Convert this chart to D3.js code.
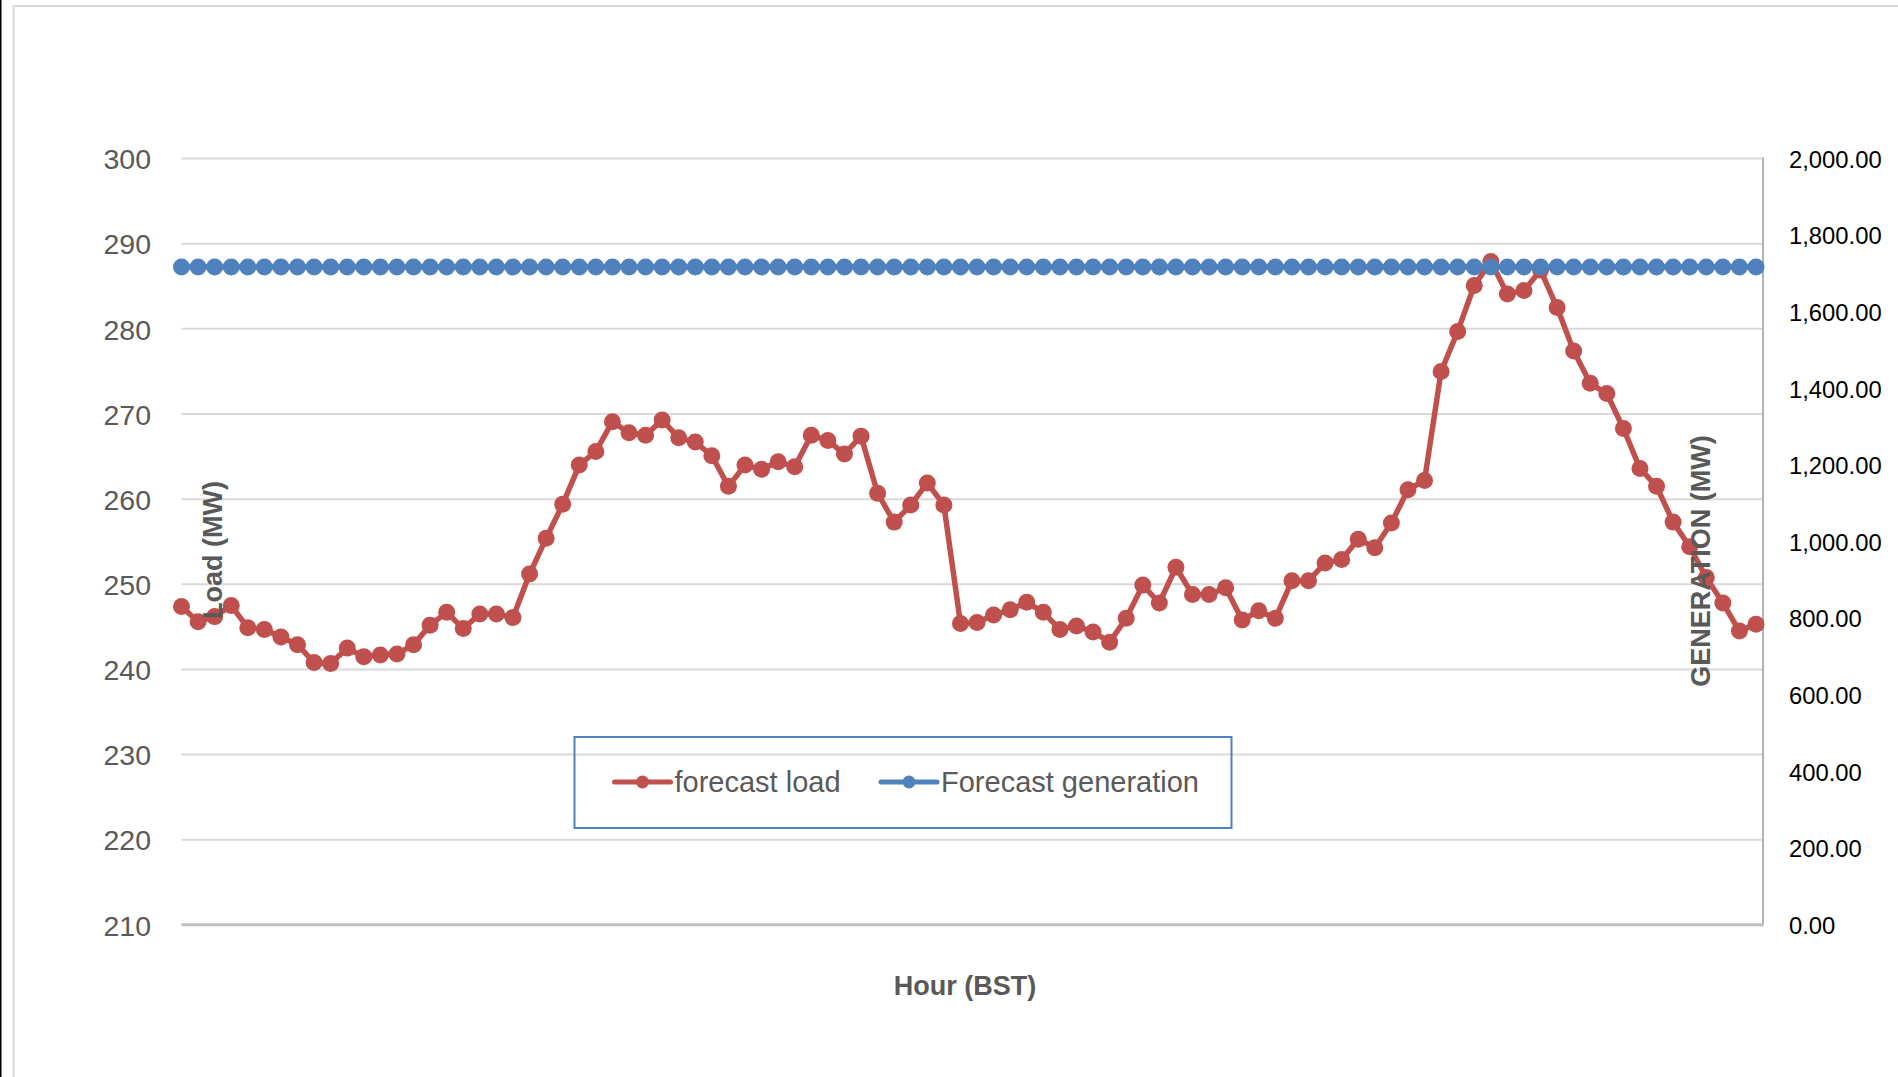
<!DOCTYPE html>
<html>
<head>
<meta charset="utf-8">
<script src="https://cdn.jsdelivr.net/npm/d3@7"></script>
<style>
  body { margin: 0; background: #ffffff; }
  svg { display: block; font-family: "Liberation Sans", Arial, sans-serif; }
</style>
</head>
<body>
<svg id="dataVisualisation"></svg>
<script>
// DATA
var hours = [
  "00:00","00:15","00:30","00:45","01:00","01:15","01:30","01:45",
  "02:00","02:15","02:30","02:45","03:00","03:15","03:30","03:45",
  "04:00","04:15","04:30","04:45","05:00","05:15","05:30","05:45",
  "06:00","06:15","06:30","06:45","07:00","07:15","07:30","07:45",
  "08:00","08:15","08:30","08:45","09:00","09:15","09:30","09:45",
  "10:00","10:15","10:30","10:45","11:00","11:15","11:30","11:45",
  "12:00","12:15","12:30","12:45","13:00","13:15","13:30","13:45",
  "14:00","14:15","14:30","14:45","15:00","15:15","15:30","15:45",
  "16:00","16:15","16:30","16:45","17:00","17:15","17:30","17:45",
  "18:00","18:15","18:30","18:45","19:00","19:15","19:30","19:45",
  "20:00","20:15","20:30","20:45","21:00","21:15","21:30","21:45",
  "22:00","22:15","22:30","22:45","23:00","23:15","23:30","23:45"
];

var forecastLoad = [
  247.4, 245.6, 246.2, 247.5, 244.9, 244.7, 243.8, 242.9,
  240.8, 240.7, 242.5, 241.5, 241.7, 241.8, 242.9, 245.2,
  246.7, 244.8, 246.5, 246.5, 246.1, 251.2, 255.4, 259.4,
  264.0, 265.6, 269.1, 267.8, 267.5, 269.3, 267.2, 266.7,
  265.1, 261.5, 264.0, 263.5, 264.4, 263.8, 267.5, 266.9,
  265.3, 267.4, 260.7, 257.3, 259.3, 261.9, 259.3, 245.4,
  245.5, 246.4, 247.0, 247.9, 246.7, 244.7, 245.1, 244.4,
  243.2, 246.0, 249.9, 247.8, 252.0, 248.8, 248.8, 249.6,
  245.8, 246.9, 246.0, 250.4, 250.4, 252.5, 252.9, 255.3,
  254.3, 257.2, 261.1, 262.2, 275.0, 279.7, 285.1, 287.9,
  284.1, 284.5, 286.9, 282.5, 277.4, 273.6, 272.4, 268.3,
  263.6, 261.5, 257.3, 254.4, 250.8, 247.8, 244.5, 245.3
];

var forecastGeneration = [
  1717, 1717, 1717, 1717, 1717, 1717, 1717, 1717,
  1717, 1717, 1717, 1717, 1717, 1717, 1717, 1717,
  1717, 1717, 1717, 1717, 1717, 1717, 1717, 1717,
  1717, 1717, 1717, 1717, 1717, 1717, 1717, 1717,
  1717, 1717, 1717, 1717, 1717, 1717, 1717, 1717,
  1717, 1717, 1717, 1717, 1717, 1717, 1717, 1717,
  1717, 1717, 1717, 1717, 1717, 1717, 1717, 1717,
  1717, 1717, 1717, 1717, 1717, 1717, 1717, 1717,
  1717, 1717, 1717, 1717, 1717, 1717, 1717, 1717,
  1717, 1717, 1717, 1717, 1717, 1717, 1717, 1717,
  1717, 1717, 1717, 1717, 1717, 1717, 1717, 1717,
  1717, 1717, 1717, 1717, 1717, 1717, 1717, 1717
];

var loadTicks = [210, 220, 230, 240, 250, 260, 270, 280, 290, 300];
var generationTicks = [0, 200, 400, 600, 800, 1000, 1200, 1400, 1600, 1800, 2000];

var seriesNames = ["forecast load", "Forecast generation"];

// NEEDED VARIABLES
var width = 1898;
var height = 1077;
var plot = {left: 181.5, right: 1763, lastPoint: 1756, top: 158.6, bottom: 924.8};
var red = "#c0504d";
var blue = "#4f81bd";
var textGrey = "#595959";

var svg = d3.select("#dataVisualisation")
  .attr("width", width)
  .attr("height", height)
  ;

// Background and outer frame
svg.append("rect")
  .attr("width", width)
  .attr("height", height)
  .attr("fill", "#ffffff")
  ;

svg.append("rect")
  .attr("x", 0)
  .attr("y", 0)
  .attr("width", 1.5)
  .attr("height", height)
  .attr("fill", "#000000")
  ;

svg.append("rect")
  .attr("x", 13.5)
  .attr("y", 6)
  .attr("width", width + 20)
  .attr("height", height + 20)
  .attr("fill", "none")
  .attr("stroke", "#d9d9d9")
  .attr("stroke-width", 2)
  ;

// Scales
var xScale = d3.scalePoint()
  .domain(hours)
  .range([plot.left, plot.lastPoint])
  ;

var yLoad = d3.scaleLinear()
  .domain([210, 300])
  .range([plot.bottom, plot.top])
  ;

var yGeneration = d3.scaleLinear()
  .domain([0, 2000])
  .range([plot.bottom, plot.top])
  ;

// Gridlines
svg.append("g")
  .attr("id", "grid")
  .selectAll("line")
  .data(loadTicks.filter((d) => d > 210))
  .join("line")
  .attr("x1", plot.left)
  .attr("x2", plot.right)
  .attr("y1", (d) => yLoad(d))
  .attr("y2", (d) => yLoad(d))
  .attr("stroke", "#d9d9d9")
  .attr("stroke-width", 2)
  ;

// Axes
var leftAxis = d3.axisLeft(yLoad)
  .tickValues(loadTicks)
  .tickSize(0)
  .tickPadding(0)
  ;

var leftAxisG = svg.append("g")
  .attr("transform", "translate(151,0)")
  .call(leftAxis)
  ;
leftAxisG.select(".domain").remove();
leftAxisG.selectAll("text")
  .attr("dy", "0.36em")
  .attr("fill", textGrey)
  .style("font-family", "'Liberation Sans', Arial, sans-serif")
  .style("font-size", "28.5px")
  ;

var rightAxis = d3.axisRight(yGeneration)
  .tickValues(generationTicks)
  .tickSize(0)
  .tickPadding(0)
  .tickFormat(d3.format(",.2f"))
  ;

var rightAxisG = svg.append("g")
  .attr("transform", "translate(1789,0)")
  .call(rightAxis)
  ;
rightAxisG.select(".domain").remove();
rightAxisG.selectAll("text")
  .attr("dy", "0.36em")
  .attr("fill", "#000000")
  .style("font-family", "'Liberation Sans', Arial, sans-serif")
  .style("font-size", "23.8px")
  ;

svg.append("line")
  .attr("x1", plot.right)
  .attr("x2", plot.right)
  .attr("y1", plot.top - 1)
  .attr("y2", plot.bottom)
  .attr("stroke", "#b3b3b3")
  .attr("stroke-width", 2)
  ;

svg.append("line")
  .attr("x1", plot.left)
  .attr("x2", plot.right + 1)
  .attr("y1", yLoad(210))
  .attr("y2", yLoad(210))
  .attr("stroke", "#bfbfbf")
  .attr("stroke-width", 3)
  ;

// Series
var loadLine = d3.line()
  .x((d, i) => xScale(hours[i]))
  .y((d) => yLoad(d))
  ;

var generationLine = d3.line()
  .x((d, i) => xScale(hours[i]))
  .y((d) => yGeneration(d))
  ;

var series = svg.append("g").attr("id", "series");

series.append("path")
  .datum(forecastLoad)
  .attr("d", loadLine)
  .attr("fill", "none")
  .attr("stroke", red)
  .attr("stroke-width", 5.5)
  .attr("stroke-linejoin", "round")
  ;

series.append("g")
  .selectAll("circle")
  .data(forecastLoad)
  .join("circle")
  .attr("cx", (d, i) => xScale(hours[i]))
  .attr("cy", (d) => yLoad(d))
  .attr("r", 8.5)
  .attr("fill", red)
  ;

series.append("path")
  .datum(forecastGeneration)
  .attr("d", generationLine)
  .attr("fill", "none")
  .attr("stroke", blue)
  .attr("stroke-width", 5.5)
  ;

series.append("g")
  .selectAll("circle")
  .data(forecastGeneration)
  .join("circle")
  .attr("cx", (d, i) => xScale(hours[i]))
  .attr("cy", (d) => yGeneration(d))
  .attr("r", 8.5)
  .attr("fill", blue)
  ;

// Axis titles
svg.append("text")
  .attr("transform", "translate(213,550) rotate(-90)")
  .attr("text-anchor", "middle")
  .attr("dominant-baseline", "central")
  .attr("fill", textGrey)
  .style("font-size", "27px")
  .style("font-weight", "bold")
  .text("Load (MW)")
  ;

svg.append("text")
  .attr("transform", "translate(1701,561) rotate(-90)")
  .attr("text-anchor", "middle")
  .attr("dominant-baseline", "central")
  .attr("fill", textGrey)
  .style("font-size", "27px")
  .style("font-weight", "bold")
  .text("GENERATION (MW)")
  ;

svg.append("text")
  .attr("x", 965)
  .attr("y", 995)
  .attr("text-anchor", "middle")
  .attr("fill", textGrey)
  .style("font-size", "27px")
  .style("font-weight", "bold")
  .text("Hour (BST)")
  ;

// Legend
var legend = svg.append("g").attr("id", "legend");

legend.append("rect")
  .attr("x", 574.5)
  .attr("y", 737)
  .attr("width", 657)
  .attr("height", 91)
  .attr("fill", "none")
  .attr("stroke", blue)
  .attr("stroke-width", 2)
  ;

var legendItems = [
  {name: seriesNames[0], color: red, x: 614.5},
  {name: seriesNames[1], color: blue, x: 881}
];

var item = legend.selectAll(".item")
  .data(legendItems)
  .join("g")
  .attr("class", "item")
  .attr("transform", (d) => "translate(" + d.x + ",782)")
  ;

item.append("line")
  .attr("x1", 0)
  .attr("x2", 56)
  .attr("stroke", (d) => d.color)
  .attr("stroke-width", 5)
  .attr("stroke-linecap", "round")
  ;

item.append("circle")
  .attr("cx", 28)
  .attr("r", 6.5)
  .attr("fill", (d) => d.color)
  ;

item.append("text")
  .attr("x", 60)
  .attr("y", 10)
  .attr("fill", textGrey)
  .style("font-size", "29px")
  .text((d) => d.name)
  ;
</script>
</body>
</html>
